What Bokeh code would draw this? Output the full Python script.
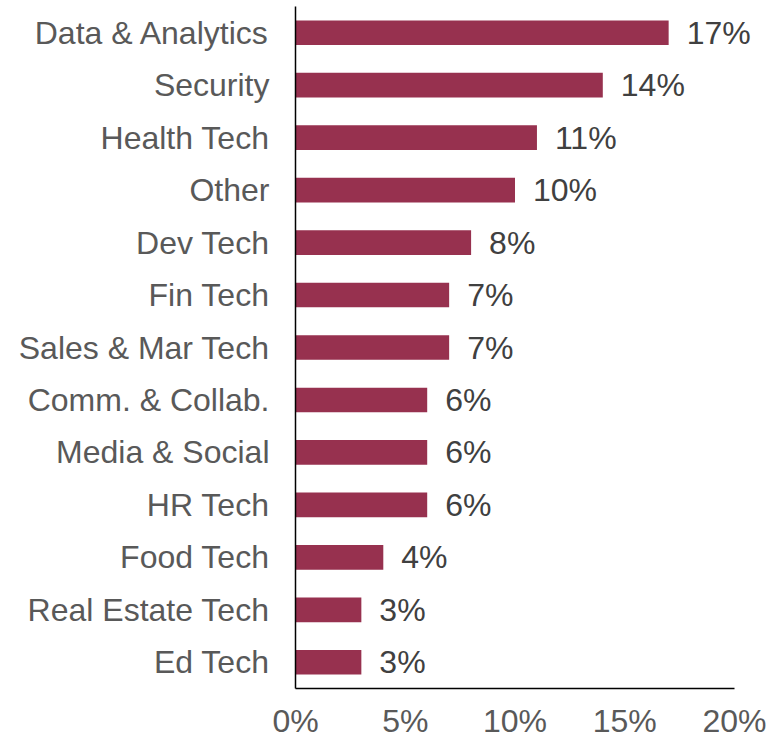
from bokeh.plotting import figure
from bokeh.models import FactorRange, Range1d, FixedTicker, PrintfTickFormatter, ColumnDataSource
from bokeh.embed import file_html
from bokeh.resources import INLINE
from bokeh.core.properties import value

categories = ["Data & Analytics", "Security", "Health Tech", "Other", "Dev Tech",
              "Fin Tech", "Sales & Mar Tech", "Comm. & Collab.", "Media & Social",
              "HR Tech", "Food Tech", "Real Estate Tech", "Ed Tech"]
shares = [17, 14, 11, 10, 8, 7, 7, 6, 6, 6, 4, 3, 3]
x_ticks = [0, 5, 10, 15, 20]
value_labels = [f"{v}%" for v in shares]

FONT = "Liberation Sans"
BAR = "#97314F"

# layout: 0..20% spans 439 px; frame extended to the right so value labels are not clipped
AXIS_MAX = 20
AXIS_PX = 439
FRAME_W = 479
x_end = AXIS_MAX * FRAME_W / AXIS_PX

src = ColumnDataSource(dict(cat=categories, val=shares, lab=value_labels))

p = figure(
    y_range=FactorRange(factors=list(reversed(categories)), range_padding=0),
    x_range=Range1d(0, x_end),
    frame_width=FRAME_W, frame_height=682,
    min_border_left=295, min_border_right=2, min_border_top=6, min_border_bottom=46,
    output_backend="svg", toolbar_location=None,
)

p.hbar(y="cat", right="val", left=0, height=0.47, source=src,
       fill_color=BAR, line_color=None)

p.text(x="val", y="cat", text="lab", source=src, x_offset=18,
       text_baseline="middle", text_align="left",
       text_font=value(FONT), text_font_size="32px", text_color="#404040")

p.xgrid.visible = False
p.ygrid.visible = False
p.outline_line_color = None

p.xaxis.ticker = FixedTicker(ticks=x_ticks)
p.xaxis.formatter = PrintfTickFormatter(format="%d%%")
p.xaxis.bounds = (0, AXIS_MAX)

for ax in (p.xaxis[0], p.yaxis[0]):
    ax.axis_line_color = "black"
    ax.axis_line_width = 1.5
    ax.major_tick_line_color = None
    ax.minor_tick_line_color = None
    ax.major_label_text_font = FONT
    ax.major_label_text_font_size = "32px"
    ax.major_label_text_color = "#595959"

p.xaxis.major_label_standoff = 8
p.yaxis.major_label_standoff = 20

open("out.html", "w").write(file_html(p, INLINE))
